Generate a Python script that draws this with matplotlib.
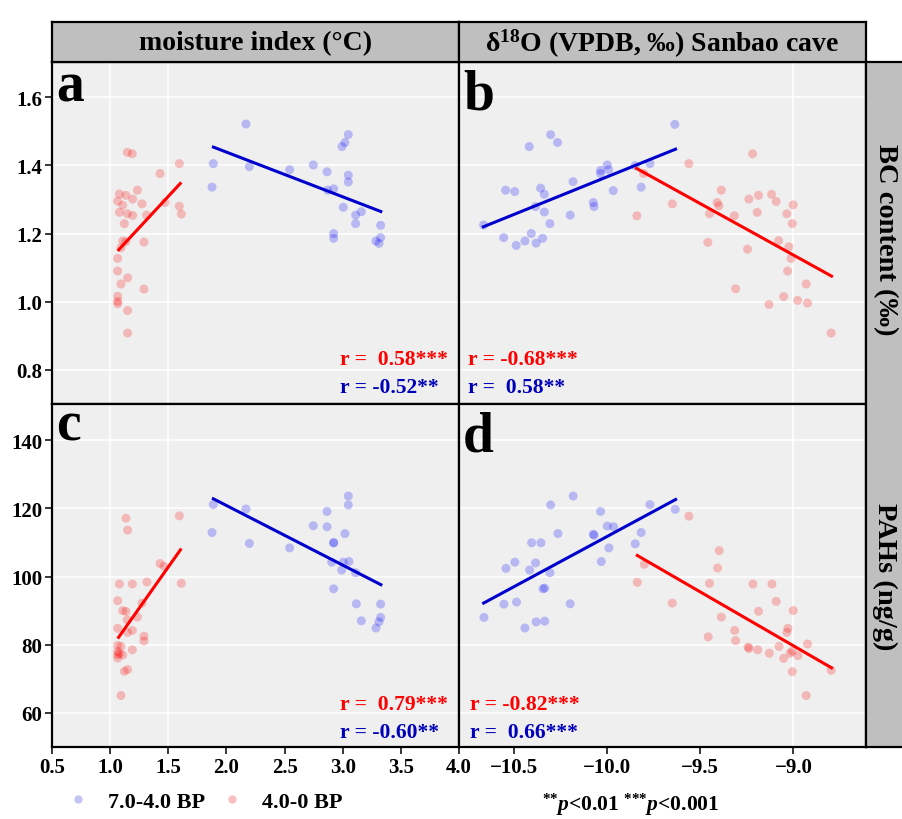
"""Four-panel scatter: BC / PAHs vs moisture index and Sanbao cave d18O."""
import matplotlib
import matplotlib.pyplot as plt
from matplotlib.lines import Line2D

matplotlib.use("Agg")

# --- data ----------------------------------------------------------------
# panel a: BC content vs moisture index
a_red_x = [1.148, 1.19, 1.595, 1.429, 1.234, 1.08, 1.136, 1.194, 1.065, 1.108, 1.274,
           1.472, 1.08, 1.148, 1.194, 1.314, 1.595, 1.612, 1.122, 1.108, 1.136, 1.093,
           1.291, 1.065, 1.065, 1.15, 1.093, 1.291, 1.065, 1.065, 1.065, 1.15, 1.15]
a_red_y = [1.438, 1.434, 1.405, 1.376, 1.327, 1.316, 1.312, 1.301, 1.295, 1.283, 1.287,
           1.291, 1.262, 1.258, 1.253, 1.254, 1.28, 1.257, 1.229, 1.178, 1.176, 1.158,
           1.175, 1.127, 1.09, 1.07, 1.052, 1.037, 1.016, 1.001, 0.994, 0.974, 0.908]
a_blue_x = [2.168, 3.048, 3.019, 2.994, 1.887, 2.197, 2.544, 2.747, 2.865, 3.048, 3.048,
            1.876, 2.922, 2.87, 3.005, 3.111, 3.16, 3.111, 3.326, 2.922, 2.922, 3.286,
            3.326, 3.312]
a_blue_y = [1.521, 1.49, 1.467, 1.455, 1.405, 1.396, 1.387, 1.401, 1.381, 1.371, 1.351,
            1.336, 1.331, 1.327, 1.277, 1.254, 1.264, 1.229, 1.224, 1.2, 1.186, 1.178,
            1.188, 1.171]

# panel b: BC content vs d18O
b_blue_x = [-9.636, -10.303, -10.266, -10.418, -9.999, -10.035, -9.992, -10.035, -9.849,
            -9.77, -10.183, -9.817, -9.967, -10.545, -10.496, -10.357, -10.337, -10.384,
            -10.074, -10.07, -10.337, -10.198, -10.307, -10.663, -10.555, -10.407,
            -10.441, -10.346, -10.381, -10.488]
b_blue_y = [1.52, 1.49, 1.467, 1.455, 1.401, 1.385, 1.387, 1.376, 1.399, 1.405, 1.352,
            1.336, 1.326, 1.327, 1.323, 1.333, 1.315, 1.279, 1.291, 1.279, 1.263, 1.254,
            1.229, 1.225, 1.188, 1.2, 1.178, 1.186, 1.172, 1.165]
b_red_x = [-9.219, -9.561, -9.804, -9.387, -9.409, -9.4, -9.65, -9.84, -9.45, -9.317,
           -9.239, -9.187, -9.117, -9.092, -9.001, -9.194, -9.035, -9.006, -9.459, -9.079,
           -9.024, -9.246, -9.013, -9.031, -8.931, -9.31, -9.052, -8.977, -9.131, -8.924,
           -8.797]
b_red_y = [1.434, 1.405, 1.376, 1.327, 1.291, 1.281, 1.287, 1.252, 1.258, 1.252, 1.301,
           1.312, 1.315, 1.294, 1.284, 1.262, 1.258, 1.229, 1.174, 1.179, 1.161, 1.154,
           1.127, 1.09, 1.052, 1.038, 1.015, 1.004, 0.992, 0.996, 0.908]

# panel c: PAHs vs moisture index
c_red_x = [1.136, 1.15, 1.595, 1.429, 1.463, 1.612, 1.08, 1.191, 1.317, 1.065, 1.274,
           1.108, 1.136, 1.234, 1.148, 1.065, 1.191, 1.15, 1.291, 1.291, 1.065, 1.093,
           1.065, 1.08, 1.108, 1.191, 1.065, 1.122, 1.15, 1.093, 1.065]
c_red_y = [117.1, 113.6, 117.8, 103.8, 103.0, 98.0, 97.8, 97.8, 98.4, 92.9, 92.2, 90.0,
           89.8, 88.1, 87.3, 84.8, 84.2, 83.6, 82.5, 81.1, 79.8, 79.5, 78.0, 77.4, 77.0,
           78.5, 76.1, 72.2, 72.7, 65.1, 77.1]
c_blue_x = [3.048, 3.048, 1.887, 2.168, 2.865, 2.747, 2.865, 1.876, 3.019, 2.197, 2.922,
            2.922, 2.544, 2.905, 3.005, 3.054, 2.991, 3.111, 2.922, 3.117, 3.326, 3.16,
            3.326, 3.312, 3.286]
c_blue_y = [123.6, 121.0, 121.1, 119.8, 119.1, 114.9, 114.6, 112.9, 112.6, 109.7, 109.9,
            109.9, 108.4, 104.2, 104.2, 104.4, 101.9, 101.1, 96.4, 92.0, 91.9, 87.0, 88.0,
            86.7, 84.9]

# panel d: PAHs vs d18O
d_blue_x = [-10.182, -10.303, -9.77, -9.634, -10.035, -9.999, -9.965, -10.264, -10.074,
            -10.07, -9.817, -10.405, -10.355, -9.849, -9.99, -10.495, -10.384, -10.031,
            -10.543, -10.416, -10.307, -10.344, -10.335, -10.554, -10.486, -10.198,
            -10.661, -10.441, -10.381, -10.335]
d_blue_y = [123.6, 121.0, 121.1, 119.7, 119.1, 114.8, 114.6, 112.6, 112.4, 112.1, 112.9,
            109.9, 109.9, 109.6, 108.4, 104.2, 104.0, 104.4, 102.4, 101.9, 101.1, 96.4,
            96.6, 91.9, 92.5, 92.0, 88.0, 84.9, 86.7, 86.9]
d_red_x = [-9.561, -9.398, -9.407, -9.8, -9.838, -9.45, -9.217, -9.115, -9.092, -9.65,
           -9.187, -9.001, -9.387, -9.315, -9.029, -9.035, -9.457, -9.31, -8.924, -9.243,
           -9.238, -9.191, -9.077, -9.129, -9.017, -9.006, -9.052, -8.975, -9.006, -8.797,
           -8.931]
d_red_y = [117.7, 107.6, 102.5, 103.6, 98.3, 98.0, 97.8, 97.8, 92.7, 92.2, 89.8, 90.0,
           88.1, 84.2, 84.8, 83.6, 82.3, 81.2, 80.2, 79.3, 78.9, 78.5, 79.5, 77.5, 77.5,
           78.1, 76.0, 76.8, 72.1, 72.5, 65.1]

# regression line end points (x pair, y pair)
fit_a_red = ([1.065, 1.612], [1.149, 1.35])
fit_a_blue = ([1.876, 3.34], [1.455, 1.263])
fit_b_blue = ([-10.672, -9.625], [1.218, 1.449])
fit_b_red = ([-9.849, -8.788], [1.393, 1.073])
fit_c_red = ([1.065, 1.612], [81.8, 108.2])
fit_c_blue = ([1.876, 3.34], [123.0, 97.4])
fit_d_blue = ([-10.67, -9.625], [92.0, 122.8])
fit_d_red = ([-9.845, -8.788], [106.4, 73.0])

r_labels = {
    "a": ("r =  0.58***", "r = -0.52**"),
    "b": ("r = -0.68***", "r =  0.58**"),
    "c": ("r =  0.79***", "r = -0.60**"),
    "d": ("r = -0.82***", "r =  0.66***"),
}

mi_ticks = [0.5, 1.0, 1.5, 2.0, 2.5, 3.0, 3.5, 4.0]
d18o_ticks = [-10.5, -10.0, -9.5, -9.0]
bc_ticks = [0.8, 1.0, 1.2, 1.4, 1.6]
pah_ticks = [60, 80, 100, 120, 140]

col_titles = ["moisture index (\u00b0C)", "\u03b4$^{18}$O (VPDB, \u2030) Sanbao cave"]
row_titles = ["BC content (\u2030)", "PAHs (ng/g)"]
legend_labels = ["7.0-4.0 BP", "4.0-0 BP"]

# --- style -----------------------------------------------------------------
W, H = 903, 820
PANEL_BG = "#efefef"
STRIP_BG = "#bfbfbf"
RED = "#ff0000"
BLUE = "#0000cc"
BLUE_TEXT = "#0000bb"

plt.rcParams.update(
    {
        "font.family": ["Liberation Serif", "DejaVu Serif"],
        "font.weight": "bold",
        "mathtext.fontset": "custom",
        "mathtext.rm": "Liberation Serif:bold",
        "mathtext.it": "Liberation Serif:italic:bold",
        "mathtext.bf": "Liberation Serif:bold",
        "axes.unicode_minus": True,
    }
)


def px_rect(x0, y0, x1, y1):
    """Pixel box (top-left origin) to figure-fraction rect."""
    return [x0 / W, 1 - y1 / H, (x1 - x0) / W, (y1 - y0) / H]


def fig_xy(x, y):
    return x / W, 1 - y / H


def style_panel(ax, xlim, ylim, vgrid):
    ax.set_facecolor(PANEL_BG)
    ax.set_xlim(*xlim)
    ax.set_ylim(*ylim)
    for sp in ax.spines.values():
        sp.set_linewidth(1.6)
        sp.set_color("black")
    ax.grid(axis="y", color="white", linewidth=1.1)
    ax.grid(axis="x", visible=False)
    for gx in vgrid:
        ax.axvline(gx, color="white", linewidth=1.1, zorder=0.5)
    ax.set_axisbelow(True)
    ax.tick_params(direction="out", length=5, width=1.1, colors="black",
                   labelsize=15, pad=2)


def draw_group(ax, x, y, color, fit, line_color):
    ax.scatter(x, y, s=42, color=color, alpha=0.23, edgecolors="none", zorder=2)
    ax.plot(fit[0], fit[1], color=line_color, linewidth=2.2, zorder=3,
            solid_capstyle="butt")


fig = plt.figure(figsize=(W / 100, H / 100), dpi=100)

ax_a = fig.add_axes(px_rect(52, 63, 459, 405))
ax_b = fig.add_axes(px_rect(459, 63, 866, 405))
ax_c = fig.add_axes(px_rect(52, 405, 459, 748))
ax_d = fig.add_axes(px_rect(459, 405, 866, 748))

MI_LIM = (0.5, 4.0)
D18O_LIM = (-10.795, -8.61)
BC_LIM = (0.70, 1.703)
PAH_LIM = (50.0, 150.6)

style_panel(ax_a, MI_LIM, BC_LIM, [1.0, 1.5])
style_panel(ax_b, D18O_LIM, BC_LIM, [-9.0])
style_panel(ax_c, MI_LIM, PAH_LIM, [1.0, 1.5])
style_panel(ax_d, D18O_LIM, PAH_LIM, [-9.0])

draw_group(ax_a, a_red_x, a_red_y, RED, fit_a_red, RED)
draw_group(ax_a, a_blue_x, a_blue_y, "#0000ff", fit_a_blue, BLUE)
draw_group(ax_b, b_blue_x, b_blue_y, "#0000ff", fit_b_blue, BLUE)
draw_group(ax_b, b_red_x, b_red_y, RED, fit_b_red, RED)
draw_group(ax_c, c_red_x, c_red_y, RED, fit_c_red, RED)
draw_group(ax_c, c_blue_x, c_blue_y, "#0000ff", fit_c_blue, BLUE)
draw_group(ax_d, d_blue_x, d_blue_y, "#0000ff", fit_d_blue, BLUE)
draw_group(ax_d, d_red_x, d_red_y, RED, fit_d_red, RED)

# ticks: only the outer panels carry labels, inner panels keep their grid
ax_a.set_yticks(bc_ticks, [f"{v:.1f}" for v in bc_ticks])
ax_c.set_yticks(pah_ticks, [str(v) for v in pah_ticks])
ax_c.set_xticks(mi_ticks, [f"{v:.1f}" for v in mi_ticks])
ax_d.set_xticks(d18o_ticks, [f"{v:.1f}".replace("-", "\u2212") for v in d18o_ticks])
ax_a.set_xticks([])
ax_b.set_xticks([])
ax_b.set_yticks(bc_ticks)
ax_b.tick_params(axis="y", length=0, labelleft=False)
ax_d.set_yticks(pah_ticks)
ax_d.tick_params(axis="y", length=0, labelleft=False)

# strips
for rect, title in zip([px_rect(52, 23, 459, 63), px_rect(459, 23, 866, 63)], col_titles):
    s = fig.add_axes(rect)
    s.set_facecolor(STRIP_BG)
    s.set_xticks([])
    s.set_yticks([])
    for sp in s.spines.values():
        sp.set_linewidth(1.6)
    s.text(0.5, 0.48, title, transform=s.transAxes, ha="center", va="center",
           fontsize=20)

side = fig.add_axes(px_rect(866, 63, 915, 748))
side.set_facecolor(STRIP_BG)
side.set_xticks([])
side.set_yticks([])
for sp in side.spines.values():
    sp.set_linewidth(1.6)
for yc, title in zip([240, 577], row_titles):
    fig.text(*fig_xy(885, yc), title, rotation=270, ha="center", va="center",
             fontsize=20.5)

# panel letters
for ax_letter, (lx, ly) in zip("abcd", [(56, 102), (463, 110), (56, 441), (463, 452)]):
    fig.text(*fig_xy(lx, ly), ax_letter, fontsize=40, ha="left", va="baseline")

# correlation labels
r_pos = {"a": (340, 360), "b": (468, 360), "c": (340, 705), "d": (470, 705)}
for key, (rx, ry) in r_pos.items():
    red_lab, blue_lab = r_labels[key]
    fig.text(*fig_xy(rx, ry), red_lab, color=RED, fontsize=15.5, ha="left", va="center")
    fig.text(*fig_xy(rx, ry + 28), blue_lab, color=BLUE_TEXT, fontsize=15.5,
             ha="left", va="center")

# legend
handles = [
    Line2D([], [], marker="o", linestyle="none", markersize=6,
           markerfacecolor="#c4c4f4", markeredgecolor="none"),
    Line2D([], [], marker="o", linestyle="none", markersize=6,
           markerfacecolor="#f8c0c0", markeredgecolor="none"),
]
fig.legend(handles, legend_labels, loc="center left",
           bbox_to_anchor=fig_xy(47, 803), ncol=2, frameon=False, fontsize=16,
           handletextpad=0.85, columnspacing=0.72, handlelength=1.0)

fig.text(*fig_xy(631, 805), r"$^{{*}{*}}\mathit{p}$<0.01 $^{{*}{*}{*}}\mathit{p}$<0.001",
         ha="center", va="center", fontsize=15.5)

fig.savefig("out.png", dpi=100)
